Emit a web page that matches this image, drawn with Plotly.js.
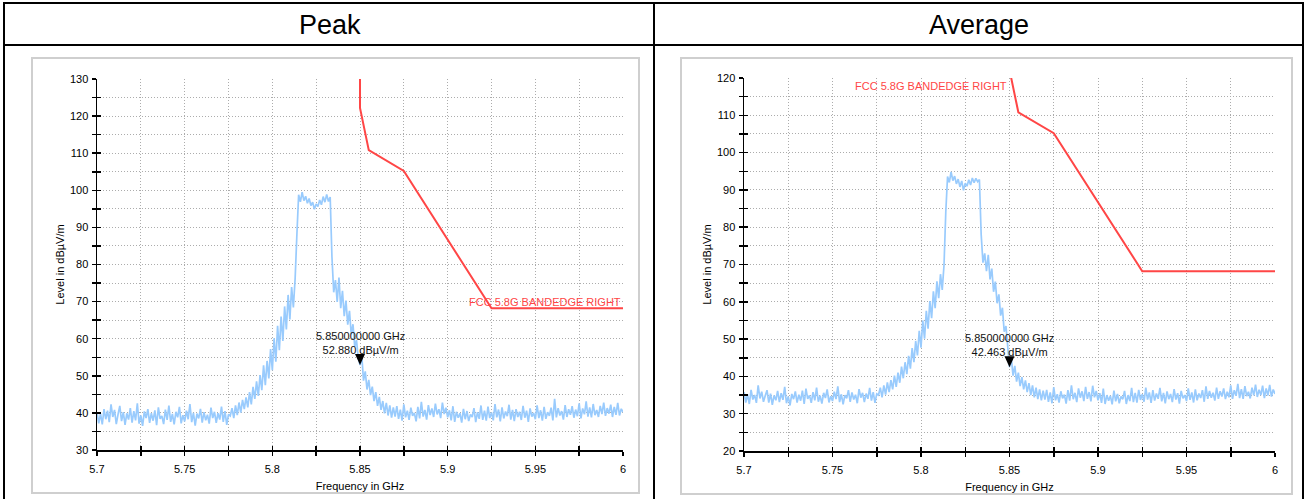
<!DOCTYPE html>
<html>
<head>
<meta charset="utf-8">
<script src="https://cdn.plot.ly/plotly-3.0.1.min.js"></script>
<style>
html,body{margin:0;padding:0;background:#fff;}
#chart{width:1306px;height:499px;}
</style>
</head>
<body>
<div id="chart"></div>
<script>
// ---------- DATA ----------
const panelTitles = ["Peak", "Average"];
const sweepStartGHz = 5.7;
const sweepStepGHz = 0.001;

const peakLevel = [
 40.1,37.2,39.8,36.9,41.0,38.3,40.6,37.5,42.3,38.9,
 40.8,37.0,39.6,41.9,37.8,40.2,36.8,39.9,38.2,41.3,
 37.4,40.5,38.0,42.6,37.1,39.3,36.5,40.4,38.6,41.0,
 37.3,39.9,37.9,40.7,36.7,41.5,38.4,39.2,37.0,40.9,
 38.1,42.0,37.6,39.7,36.9,40.3,38.8,41.6,37.2,39.4,
 37.7,40.6,38.3,42.4,37.5,40.0,36.6,39.8,38.5,41.1,
 37.4,40.2,38.0,39.5,37.1,41.4,38.6,40.3,37.3,39.9,
 38.2,41.7,37.6,40.5,36.8,39.6,
 39.2,41.3,38.6,42.0,39.4,42.8,40.1,43.5,41.0,44.2,41.5,45.6,42.3,47.0,43.8,
 48.5,44.6,50.2,46.1,52.8,47.5,54.0,49.3,57.2,51.5,
 60.1,53.8,63.5,56.9,66.0,59.4,68.7,62.5,71.8,65.2,73.9,68.4,76.2,
 88.0,
 98.8,96.9,99.5,97.2,98.4,96.5,97.8,95.9,96.8,94.9,96.3,95.6,97.4,96.1,98.3,96.8,98.9,97.0,98.2,
 82.0,
 72.5,75.8,69.9,76.5,68.2,72.9,66.1,70.3,63.8,67.5,61.2,
 63.9,57.8,59.6,54.9,52.9,
 55.6,48.7,51.2,46.3,48.9,44.8,47.1,43.2,45.6,41.9,
 44.3,40.8,43.2,39.9,42.7,39.3,42.0,38.7,41.5,39.0,
 41.8,38.4,40.9,37.9,42.3,38.8,40.6,38.1,41.4,39.2,
 40.0,37.7,41.6,38.5,43.0,39.0,40.8,38.2,42.1,39.4,
 41.2,38.9,42.5,39.6,41.0,38.6,42.8,39.7,41.4,38.8,
 40.7,38.0,41.8,37.6,40.3,38.7,39.9,37.4,41.1,38.3,
 40.5,37.8,39.6,38.9,41.3,37.5,40.2,38.4,42.0,38.1,
 40.6,37.9,41.7,38.6,40.1,38.0,42.4,38.8,40.9,37.7,
 41.5,38.5,40.4,39.1,42.2,38.2,40.8,37.8,41.0,38.9,
 40.3,38.1,41.9,38.7,40.6,37.6,41.2,39.0,40.0,38.3,
 42.0,38.6,40.7,37.9,41.6,38.4,40.2,39.2,41.4,38.0,
 43.8,38.8,41.3,39.3,40.5,38.2,42.1,38.9,41.0,39.5,
 41.8,38.7,40.9,39.1,42.6,38.5,41.2,39.6,43.1,39.0,
 41.5,38.8,42.4,39.4,40.8,38.9,41.9,39.7,42.8,39.2,
 41.3,39.8,42.2,38.9,41.6,39.5,42.7,39.3,41.1,40.2
];

const avgLevel = [
 35.8,33.0,35.2,32.6,36.4,33.8,35.0,32.9,37.6,34.1,
 35.9,33.2,34.8,36.3,33.0,35.4,32.4,34.9,33.6,36.1,
 33.1,35.5,33.7,37.2,32.8,34.6,32.2,35.3,33.9,36.0,
 33.0,35.1,33.5,36.2,32.6,36.7,34.0,34.9,32.9,35.8,
 33.6,37.0,33.2,34.8,32.7,35.6,34.2,36.5,33.0,34.7,
 33.4,35.9,33.9,37.3,33.1,35.2,32.5,35.0,34.1,36.3,
 33.2,35.7,33.8,35.1,32.8,36.6,34.3,35.6,33.1,35.4,
 34.0,36.9,33.5,35.8,32.9,35.3,
 35.0,37.0,34.4,37.6,35.1,38.4,35.8,39.0,36.5,40.2,37.2,41.0,38.3,42.6,39.5,
 43.8,40.6,45.5,42.1,47.6,43.8,49.5,45.6,52.2,47.7,
 55.0,50.1,57.6,52.8,60.2,55.6,62.8,58.3,65.5,61.0,67.4,63.2,69.8,
 84.0,
 93.6,92.0,94.8,92.5,93.7,91.6,92.9,90.8,92.4,89.9,91.8,91.0,92.7,91.3,93.2,91.9,93.1,92.2,92.8,
 78.0,
 70.5,73.0,68.2,72.6,66.0,68.9,62.7,65.4,59.6,62.0,56.3,
 58.4,52.0,53.5,46.8,42.5,
 45.0,40.2,42.8,38.6,41.0,37.4,39.8,36.5,38.9,35.8,
 38.2,35.0,37.6,34.4,37.0,33.9,36.5,33.6,36.2,33.8,
 36.4,33.2,35.7,32.8,37.1,33.6,35.2,33.0,36.0,34.1,
 35.1,32.7,36.3,33.5,37.6,33.9,35.6,33.1,36.8,34.3,
 36.0,33.4,37.2,34.0,35.8,33.3,37.5,34.4,36.1,33.6,
 35.5,32.9,36.7,32.6,35.0,33.5,34.8,32.5,36.2,33.3,
 35.3,32.8,34.6,33.9,36.1,32.6,35.0,33.4,36.9,33.1,
 35.6,33.0,36.4,33.7,35.2,33.2,37.0,33.8,35.7,32.9,
 36.3,33.5,35.4,34.0,36.9,33.3,35.6,32.8,36.0,33.9,
 35.3,33.1,36.6,33.8,35.5,32.7,36.1,34.1,35.0,33.4,
 36.8,33.7,35.7,33.0,36.5,33.6,35.4,34.2,36.3,33.2,
 37.3,34.0,36.1,34.3,35.6,33.5,37.0,34.0,36.0,34.6,
 36.8,33.9,35.9,34.4,37.6,34.0,36.3,34.8,38.0,34.2,
 36.6,34.0,37.4,34.7,35.9,34.1,37.0,34.9,37.8,34.5,
 36.4,35.0,37.5,34.2,36.8,34.9,37.7,34.6,36.5,35.3
];

// FCC 5.8 GHz band edge (right) limit line
const limitName = "FCC 5.8G BANDEDGE RIGHT";
const limitFreq = [5.85, 5.85, 5.855, 5.875, 5.925, 6.0];
const limitLevel = [140, 122.2, 110.8, 105.2, 68.2, 68.2];

// Marker readings
const markerFreq = 5.85;
const peakMarkerLevel = 52.88;
const avgMarkerLevel = 42.463;
const peakMarkerText = ["5.850000000 GHz", "52.880 dBµV/m"];
const avgMarkerText = ["5.850000000 GHz", "42.463 dBµV/m"];

// Axes
const xTickVals = [5.7, 5.75, 5.8, 5.85, 5.9, 5.95, 6.0];
const xTickText = ["5.7", "5.75", "5.8", "5.85", "5.9", "5.95", "6"];
const peakYTicks = [30, 40, 50, 60, 70, 80, 90, 100, 110, 120, 130];
const avgYTicks = [20, 30, 40, 50, 60, 70, 80, 90, 100, 110, 120];
const xTitle = "Frequency in GHz";
const yTitle = "Level in dBµV/m";

// ---------- BUILD ----------
const W = 1306, H = 499;
const px = v => v / W;
const py = v => 1 - v / H;
const FONT = "Arial, 'Liberation Sans', sans-serif";
const freq = peakLevel.map((_, i) => +(sweepStartGHz + i * sweepStepGHz).toFixed(3));

const TRACE_COLOR = "#99cbfd";
const LIMIT_COLOR = "#ff4646";
const GRID = "#acacac";
const GRID_DASH = "1px,2px";

function dataTraces(levels, xa, ya) {
  return [
    {x: freq, y: levels, type: "scatter", mode: "lines", xaxis: xa, yaxis: ya,
     line: {color: TRACE_COLOR, width: 1.7}, hoverinfo: "skip", showlegend: false},
    {x: limitFreq, y: limitLevel, type: "scatter", mode: "lines", xaxis: xa, yaxis: ya,
     line: {color: LIMIT_COLOR, width: 2}, hoverinfo: "skip", showlegend: false}
  ];
}
function dummy(xa, ya) {
  return {x: limitFreq, y: limitLevel, type: "scatter", mode: "lines", xaxis: xa, yaxis: ya,
    line: {width: 0, color: "rgba(0,0,0,0)"}, hoverinfo: "skip", showlegend: false};
}

const traces = [
  ...dataTraces(peakLevel, "x", "y"),
  ...dataTraces(avgLevel, "x2", "y2"),
  dummy("x3", "y3"), dummy("x4", "y4")
];

function xAxis(domain, anchor) {
  return {
    domain: domain, anchor: anchor, range: [5.7, 6.0],
    tickmode: "array", tickvals: xTickVals, ticktext: xTickText,
    ticks: "outside", ticklen: 4, tickwidth: 1.5, tickcolor: "#000",
    ticklabelstandoff: 4,
    showline: true, linecolor: "#000", linewidth: 1.5,
    showgrid: true, gridcolor: GRID, griddash: GRID_DASH, gridwidth: 1,
    zeroline: false,
    tickfont: {family: FONT, size: 11, color: "#000"},
    title: {text: xTitle, font: {family: FONT, size: 11, color: "#000"}, standoff: 8},
    minor: {tickmode: "linear", tick0: 5.7, dtick: 0.025, ticks: "outside", ticklen: 4,
            tickwidth: 1.5, tickcolor: "#000", showgrid: true, gridcolor: GRID, griddash: GRID_DASH, gridwidth: 1},
    fixedrange: true
  };
}
function yAxis(domain, anchor, range, ticks) {
  return {
    domain: domain, anchor: anchor, range: range,
    tickmode: "array", tickvals: ticks, ticktext: ticks.map(String),
    ticks: "outside", ticklen: 4, tickwidth: 1.5, tickcolor: "#000",
    ticklabelstandoff: 1,
    showline: true, linecolor: "#000", linewidth: 1.5,
    showgrid: true, gridcolor: GRID, griddash: GRID_DASH, gridwidth: 1,
    zeroline: false,
    tickfont: {family: FONT, size: 11, color: "#000"},
    title: {text: yTitle, font: {family: FONT, size: 11, color: "#000"}, standoff: 3},
    minor: {tickmode: "linear", tick0: range[0], dtick: 5, ticks: "outside", ticklen: 4,
            tickwidth: 1.5, tickcolor: "#000", showgrid: true, gridcolor: GRID, griddash: GRID_DASH, gridwidth: 1},
    fixedrange: true
  };
}
function xOver(over, anchor) {
  return {overlaying: over, anchor: anchor, range: [5.7, 6.0], tickmode: "array", tickvals: xTickVals,
    showticklabels: false, ticks: "inside", ticklen: 4, tickwidth: 1.5, tickcolor: "#000",
    showgrid: false, showline: false, zeroline: false,
    minor: {tickmode: "linear", tick0: 5.7, dtick: 0.025, ticks: "inside", ticklen: 4, tickwidth: 1.5, tickcolor: "#000", showgrid: false},
    fixedrange: true};
}
function yOver(over, anchor, range, ticks) {
  return {overlaying: over, anchor: anchor, range: range, tickmode: "array", tickvals: ticks,
    showticklabels: false, ticks: "inside", ticklen: 4, tickwidth: 1.5, tickcolor: "#000",
    showgrid: false, showline: false, zeroline: false,
    minor: {tickmode: "linear", tick0: range[0], dtick: 5, ticks: "inside", ticklen: 4, tickwidth: 1.5, tickcolor: "#000", showgrid: false},
    fixedrange: true};
}

const d1x = [px(97), px(623)], d1y = [py(450), py(79)];
const d2x = [px(744), px(1275)], d2y = [py(451), py(78)];

function line(x0, y0, x1, y1, color, width) {
  return {type: "line", xref: "paper", yref: "paper", x0: px(x0), y0: py(y0), x1: px(x1), y1: py(y1),
          line: {color: color, width: width}, layer: "above"};
}
function tri(xa, ya, level) {
  return {type: "path", xref: xa, yref: ya, xsizemode: "pixel", ysizemode: "pixel",
          xanchor: markerFreq, yanchor: level, path: "M -5 11 L 5 11 L 0 0 Z",
          fillcolor: "#000", line: {width: 0}, layer: "above"};
}

const shapes = [
  {type: "rect", xref: "paper", yref: "paper", x0: px(32), y0: py(493), x1: px(639), y1: py(58),
   line: {color: "#cfcfcf", width: 2}, layer: "below"},
  {type: "rect", xref: "paper", yref: "paper", x0: px(681), y0: py(494), x1: px(1292), y1: py(58),
   line: {color: "#cfcfcf", width: 2}, layer: "below"},
  line(3, 3, 1304, 3, "#000", 2),
  line(3, 45, 1304, 45, "#000", 2),
  line(4, 2, 4, 499, "#000", 2),
  line(654, 2, 654, 499, "#000", 2),
  line(1303, 2, 1303, 499, "#000", 2),
  tri("x", "y", peakMarkerLevel),
  tri("x2", "y2", avgMarkerLevel)
];

const annotations = [
  {xref: "paper", yref: "paper", x: px(330), y: py(25), text: panelTitles[0], showarrow: false,
   font: {family: FONT, size: 27, color: "#000"}, xanchor: "center", yanchor: "middle"},
  {xref: "paper", yref: "paper", x: px(979), y: py(25), text: panelTitles[1], showarrow: false,
   font: {family: FONT, size: 27, color: "#000"}, xanchor: "center", yanchor: "middle"},
  {xref: "x", yref: "y", x: limitFreq[limitFreq.length - 1], y: limitLevel[limitLevel.length - 1],
   text: limitName, showarrow: false, xanchor: "right", yanchor: "bottom", yshift: -2,
   font: {family: FONT, size: 11, color: LIMIT_COLOR}},
  {xref: "x2", yref: "y2", x: markerFreq, y: avgYTicks[avgYTicks.length - 1],
   text: limitName, showarrow: false, xanchor: "right", yanchor: "top", xshift: -1,
   font: {family: FONT, size: 11, color: LIMIT_COLOR}},
  {xref: "x", yref: "y", x: markerFreq, y: peakMarkerLevel, text: peakMarkerText.join("<br>"),
   showarrow: false, xanchor: "center", yanchor: "bottom", yshift: 7,
   font: {family: FONT, size: 11, color: "#111"}},
  {xref: "x2", yref: "y2", x: markerFreq, y: avgMarkerLevel, text: avgMarkerText.join("<br>"),
   showarrow: false, xanchor: "center", yanchor: "bottom", yshift: 7,
   font: {family: FONT, size: 11, color: "#111"}}
];

const layout = {
  width: W, height: H,
  margin: {l: 0, r: 0, t: 0, b: 0},
  paper_bgcolor: "#fff", plot_bgcolor: "#fff",
  showlegend: false,
  xaxis: xAxis(d1x, "y"),
  yaxis: yAxis(d1y, "x", [30, 130], peakYTicks),
  xaxis2: xAxis(d2x, "y2"),
  yaxis2: yAxis(d2y, "x2", [20, 120], avgYTicks),
  xaxis3: xOver("x", "y3"),
  yaxis3: yOver("y", "x3", [30, 130], peakYTicks),
  xaxis4: xOver("x2", "y4"),
  yaxis4: yOver("y2", "x4", [20, 120], avgYTicks),
  shapes: shapes,
  annotations: annotations
};

Plotly.newPlot("chart", traces, layout, {staticPlot: true, displayModeBar: false});
</script>
</body>
</html>
